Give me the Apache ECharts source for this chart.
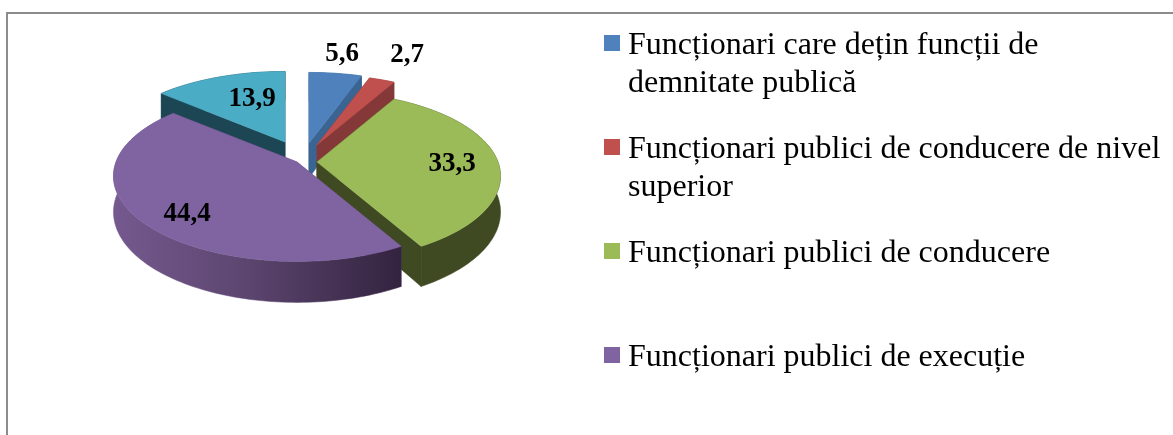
<!DOCTYPE html>
<html>
<head>
<meta charset="utf-8">
<style>html,body{margin:0;padding:0;background:#fff}#c{width:1173px;height:435px}</style>
<script src="https://cdn.jsdelivr.net/npm/echarts@6/dist/echarts.min.js"></script>
</head>
<body>
<div id="c"></div>
<script>
const categories = [
  "Funcționari care dețin funcții de\ndemnitate publică",
  "Funcționari publici de conducere de nivel\nsuperior",
  "Funcționari publici de conducere",
  "Funcționari publici de execuție"
];
const values = [5.6, 2.7, 33.3, 44.4, 13.9];
const valueLabels = ["5,6", "2,7", "33,3", "44,4", "13,9"];
const topColors = ["#4f81bd", "#c0504d", "#9bbb59", "#8064a2", "#4bacc6"];
const sideColors = ["#3a6491", "#843838", "#3f4a22", "#5a4474", "#1d4654"];
const drawRank = [1, 2, 3, 4, 0];

// projection of the tilted pie
const radiusX = 181, radiusY = 85, perspective = 0.17, depth = 35;
// exploded apex of every slice, and where each number is written
const apexes = [[309, 143], [317, 145], [317, 162], [297, 162], [285, 142]];
const labelSpots = [[342, 54], [407, 55], [452, 164], [187, 214], [252, 99]];

const total = values.reduce((a, b) => a + b, 0);
const SERIF = '"Liberation Serif","Times New Roman",serif';

function renderSlice(params, api) {
  const i = params.dataIndex;
  const v = api.value(0);
  let before = 0;
  for (let k = 0; k < i; k++) before += values[k];
  const a0 = before / total * Math.PI * 2;
  const a1 = (before + v) / total * Math.PI * 2;
  const apex = apexes[i];
  const P = (t, r, d) => {
    const x = Math.sin(t) * r, y = -Math.cos(t) * r;
    const s = 1 + perspective * y;
    return [apex[0] + x * radiusX * s, apex[1] + y * radiusY * s + d * s];
  };
  const steps = Math.max(6, Math.round((a1 - a0) * 40));
  const topArc = [], lowArc = [];
  for (let n = 0; n <= steps; n++) {
    const t = a0 + (a1 - a0) * n / steps;
    topArc.push(P(t, 1, 0));
    lowArc.push(P(t, 1, depth));
  }
  const z = drawRank[i] * 10 + 1;
  const side = i === 3
    ? { type: 'linear', x: 0, y: 0, x2: 1, y2: 0, colorStops: [
        { offset: 0, color: '#75598f' }, { offset: 0.45, color: '#5d4670' }, { offset: 1, color: '#33233f' }] }
    : sideColors[i];
  const poly = (points, fill, zz) => ({ type: 'polygon', shape: { points }, style: { fill, stroke: fill, lineWidth: 0.5 }, z2: zz, silent: true });
  return {
    type: 'group',
    children: [
      poly([P(0, 0, 0), topArc[0], lowArc[0], P(0, 0, depth)], sideColors[i], z),
      poly([P(0, 0, 0), topArc[steps], lowArc[steps], P(0, 0, depth)], sideColors[i], z + 1),
      poly(topArc.concat(lowArc.slice().reverse()), side, z + 2),
      poly([P(0, 0, 0)].concat(topArc), topColors[i], z + 3),
      { type: 'text', x: labelSpots[i][0], y: labelSpots[i][1], z2: 100, silent: true,
        style: { text: valueLabels[i], fill: '#000', font: 'bold 27px ' + SERIF, align: 'center', verticalAlign: 'middle' } }
    ]
  };
}

const legendTops = [35, 139, 243, 347];
const legendItems = [];
categories.forEach((name, i) => {
  legendItems.push({ type: 'rect', shape: { x: 604, y: legendTops[i], width: 16, height: 16 }, style: { fill: topColors[i] }, silent: true });
  legendItems.push({ type: 'text', x: 628, y: legendTops[i] - 8, silent: true,
    style: { text: name, fill: '#000', font: '32px ' + SERIF, lineHeight: 38, align: 'left', verticalAlign: 'top' } });
});
const frame = [
  { type: 'rect', shape: { x: 6, y: 12, width: 1167, height: 2 }, style: { fill: '#8c8c8c' }, silent: true },
  { type: 'rect', shape: { x: 6, y: 12, width: 2, height: 423 }, style: { fill: '#8c8c8c' }, silent: true }
];

const chart = echarts.init(document.getElementById('c'), null, { renderer: 'canvas' });
chart.setOption({
  animation: false,
  backgroundColor: '#fff',
  tooltip: { show: false },
  graphic: { elements: frame.concat(legendItems) },
  series: [{
    type: 'custom',
    coordinateSystem: 'none',
    renderItem: renderSlice,
    data: values.map(v => [v]),
    silent: true
  }]
});
</script>
</body>
</html>
